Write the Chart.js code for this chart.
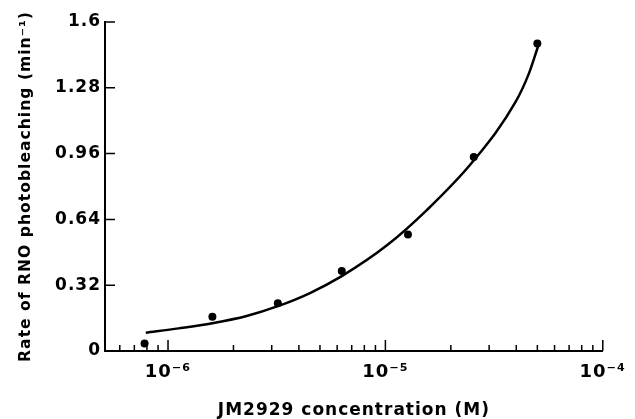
<!DOCTYPE html>
<html>
<head>
<meta charset="utf-8">
<script src="https://cdn.jsdelivr.net/npm/chart.js@4.4.0/dist/chart.umd.min.js"></script>
<style>
  body { margin: 0; background: #fff; }
  canvas { display: block; }
</style>
</head>
<body>
<canvas id="grafica" width="635" height="419"></canvas>
<script>
// measured points: concentration (M) vs rate (min^-1)
const concentraciones = [7.8e-7, 1.6e-6, 3.2e-6, 6.3e-6, 1.27e-5, 2.55e-5, 5.0e-5];
const tasas = [0.037, 0.167, 0.232, 0.389, 0.567, 0.944, 1.495];

// fitted curve
const curvaX = [7.9e-7, 1.12e-6, 1.6e-6, 2.3e-6, 3.2e-6, 4.5e-6, 6.3e-6, 1.02e-5, 1.55e-5, 2.52e-5, 3.97e-5, 4.57e-5, 5.04e-5];
const curvaY = [0.089, 0.110, 0.135, 0.170, 0.218, 0.282, 0.364, 0.515, 0.685, 0.920, 1.211, 1.349, 1.482];

// axis ticks
const yTicks = [0, 0.32, 0.64, 0.96, 1.28, 1.6];
const yTickLabels = ['0', '0.32', '0.64', '0.96', '1.28', '1.6'];
const xMajor = [1e-6, 1e-5, 1e-4];
const xMajorLabels = ['10⁻⁶', '10⁻⁵', '10⁻⁴'];
const xMinorSteps = [2, 3, 4, 5, 6, 7, 8, 9];
const xMin = 5.13e-7;
const xMax = 1e-4;

let xTicks = [];
[1e-7, 1e-6, 1e-5].forEach(d => {
    xMinorSteps.forEach(m => {
        const v = m * d;
        if (v > xMin && v < xMax) xTicks.push(v);
    });
});
xTicks = xTicks.concat(xMajor).sort((a, b) => a - b);

// ticks drawn inside the axes, like the original figure
const marcasInternas = {
    id: 'marcasInternas',
    beforeDraw(chart) {
        chart.ctx.letterSpacing = '1px';
    },
    afterDatasetsDraw(chart) {
        const ctx = chart.ctx;
        const sx = chart.scales.x;
        const sy = chart.scales.y;
        const area = chart.chartArea;
        ctx.save();
        ctx.strokeStyle = '#000';
        ctx.lineWidth = 1.5;
        ctx.beginPath();
        sx.ticks.forEach(t => {
            const px = sx.getPixelForValue(t.value);
            const largo = xMajor.includes(t.value) ? 11 : 6;
            ctx.moveTo(px, area.bottom);
            ctx.lineTo(px, area.bottom - largo);
        });
        sy.ticks.forEach(t => {
            const py = sy.getPixelForValue(t.value);
            ctx.moveTo(area.left, py);
            ctx.lineTo(area.left + 10, py);
        });
        ctx.stroke();
        ctx.restore();
    }
};

Chart.defaults.font.family = 'DejaVu Sans';
Chart.defaults.font.weight = 'bold';
Chart.defaults.color = '#000';

const ctx = document.getElementById('grafica').getContext('2d');
new Chart(ctx, {
    type: 'scatter',
    data: {
        datasets: [{
            label: 'fit',
            data: curvaX.map((x, i) => ({ x: x, y: curvaY[i] })),
            showLine: true,
            borderColor: '#000',
            borderWidth: 2.5,
            pointRadius: 0,
            cubicInterpolationMode: 'monotone'
        }, {
            label: 'JM2929',
            data: concentraciones.map((x, i) => ({ x: x, y: tasas[i] })),
            backgroundColor: '#000',
            borderWidth: 0,
            pointRadius: 4
        }]
    },
    options: {
        responsive: false,
        animation: false,
        layout: {
            autoPadding: false,
            padding: { top: 22, right: 27, bottom: 0, left: 0 }
        },
        plugins: {
            legend: { display: false },
            tooltip: { enabled: false }
        },
        scales: {
            x: {
                type: 'logarithmic',
                min: xMin,
                max: xMax,
                afterBuildTicks: s => { s.ticks = xTicks.map(v => ({ value: v })); },
                afterFit: s => { s.height = 68; },
                grid: { drawOnChartArea: false, drawTicks: false },
                border: { display: true, color: '#000', width: 2 },
                ticks: {
                    autoSkip: false,
                    maxRotation: 0,
                    padding: 11,
                    font: { size: 18 },
                    callback: v => {
                        const i = xMajor.indexOf(v);
                        return i >= 0 ? xMajorLabels[i] : '';
                    }
                },
                title: {
                    display: true,
                    text: 'JM2929 concentration (M)',
                    font: { size: 17, lineHeight: 1 },
                    padding: { top: 0, bottom: 0 }
                }
            },
            y: {
                min: 0,
                max: 1.6,
                afterBuildTicks: s => { s.ticks = yTicks.map(v => ({ value: v })); },
                afterFit: s => { s.width = 105; },
                grid: { drawOnChartArea: false, drawTicks: false },
                border: { display: true, color: '#000', width: 2 },
                ticks: {
                    padding: 4,
                    font: { size: 17 },
                    callback: v => {
                        const i = yTicks.indexOf(v);
                        return i >= 0 ? yTickLabels[i] : '';
                    }
                },
                title: {
                    display: true,
                    text: 'Rate of RNO photobleaching (min⁻¹)',
                    font: { size: 15.6 },
                    padding: { top: 17, bottom: 0 }
                }
            }
        }
    },
    plugins: [marcasInternas]
});
</script>
</body>
</html>
